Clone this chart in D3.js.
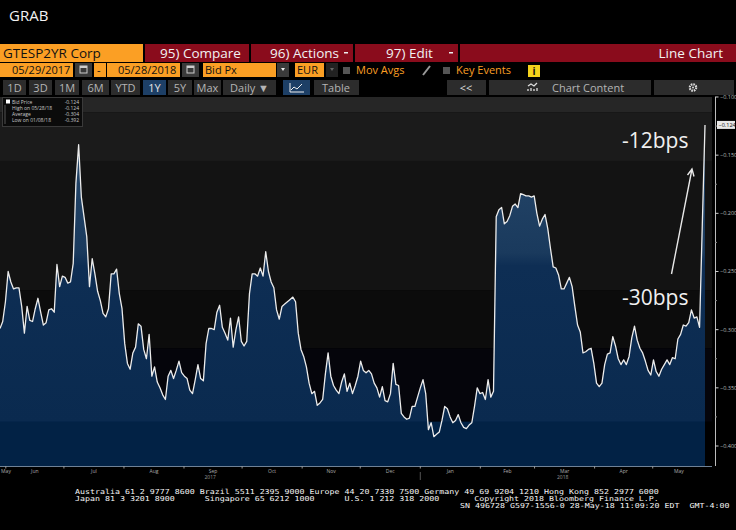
<!DOCTYPE html>
<html>
<head>
<meta charset="utf-8">
<script src="https://cdn.jsdelivr.net/npm/d3@7"></script>
<style>
  body { margin: 0; background: #000; overflow: hidden; }
  svg { display: block; }
  text { font-family: "Open Sans", sans-serif; }
  .mono { font-family: "DejaVu Sans Mono", monospace; white-space: pre; }
</style>
</head>
<body>
<div id="chart"></div>
<script>
// GTESP2YR Corp, Bid Px, one value per business day 05/29/2017 .. 05/28/2018
const bidPx = [
  -0.299, -0.293, -0.276, -0.250, -0.259, -0.265, -0.264, -0.264, -0.280, -0.303,
  -0.280, -0.292, -0.293, -0.282, -0.273, -0.285, -0.296, -0.294, -0.283, -0.282,
  -0.285, -0.244, -0.263, -0.254, -0.255, -0.260, -0.259, -0.243, -0.174, -0.141,
  -0.186, -0.203, -0.220, -0.263, -0.239, -0.252, -0.267, -0.275, -0.286, -0.289,
  -0.282, -0.252, -0.252, -0.248, -0.269, -0.282, -0.312, -0.329, -0.334, -0.320,
  -0.315, -0.295, -0.297, -0.317, -0.325, -0.304, -0.340, -0.332, -0.345, -0.350,
  -0.356, -0.360, -0.340, -0.335, -0.342, -0.335, -0.327, -0.337, -0.340, -0.342,
  -0.352, -0.355, -0.343, -0.330, -0.342, -0.344, -0.312, -0.299, -0.299, -0.300,
  -0.285, -0.279, -0.298, -0.303, -0.309, -0.290, -0.315, -0.300, -0.289, -0.310,
  -0.314, -0.310, -0.269, -0.252, -0.252, -0.254, -0.247, -0.254, -0.233, -0.250,
  -0.259, -0.264, -0.283, -0.291, -0.280, -0.278, -0.276, -0.274, -0.272, -0.276,
  -0.303, -0.317, -0.323, -0.332, -0.346, -0.355, -0.353, -0.365, -0.363, -0.360,
  -0.338, -0.320, -0.340, -0.348, -0.352, -0.355, -0.345, -0.338, -0.353, -0.346,
  -0.355, -0.348, -0.340, -0.327, -0.335, -0.337, -0.335, -0.338, -0.346, -0.350,
  -0.358, -0.349, -0.361, -0.362, -0.355, -0.329, -0.347, -0.348, -0.372, -0.375,
  -0.377, -0.376, -0.366, -0.366, -0.358, -0.350, -0.343, -0.355, -0.386, -0.380,
  -0.392, -0.390, -0.388, -0.378, -0.366, -0.368, -0.375, -0.380, -0.378, -0.373,
  -0.380, -0.384, -0.385, -0.382, -0.380, -0.366, -0.350, -0.355, -0.354, -0.360,
  -0.343, -0.358, -0.353, -0.203, -0.197, -0.195, -0.209, -0.207, -0.202, -0.194,
  -0.192, -0.195, -0.183, -0.184, -0.185, -0.185, -0.186, -0.185, -0.200, -0.211,
  -0.205, -0.201, -0.213, -0.230, -0.246, -0.247, -0.253, -0.265, -0.265, -0.260,
  -0.255, -0.263, -0.280, -0.296, -0.302, -0.320, -0.319, -0.317, -0.316, -0.329,
  -0.346, -0.349, -0.346, -0.330, -0.321, -0.320, -0.306, -0.314, -0.325, -0.330,
  -0.326, -0.330, -0.323, -0.307, -0.297, -0.309, -0.316, -0.320, -0.327, -0.335,
  -0.339, -0.326, -0.336, -0.340, -0.334, -0.330, -0.326, -0.330, -0.324, -0.325,
  -0.308, -0.304, -0.296, -0.297, -0.294, -0.283, -0.290, -0.289, -0.298, -0.210,
  -0.124
];

const startDate = new Date(2017, 4, 29);
const endDate = new Date(2018, 4, 28);
const monthLabels = ["May", "Jun", "Jul", "Aug", "Sep", "Oct", "Nov", "Dec", "Jan", "Feb", "Mar", "Apr", "May"];
const yearLabels = ["2017", "2018"];
const yTickValues = [-0.1, -0.15, -0.2, -0.25, -0.3, -0.35, -0.4];
const bandEdges = [-0.1, -0.113, -0.155, -0.266, -0.316, -0.379];
const legendNames = ["Bid Price", "High on 05/28/18", "Average", "Low on 01/08/18"];
const legendValues = ["-0.124", "-0.124", "-0.304", "-0.392"];
const callouts = ["-12bps", "-30bps"];

const rangeButtons = ["1D", "3D", "1M", "6M", "YTD", "1Y", "5Y", "Max", "Daily \u25BC"];
const footerLines = [
  "Australia 61 2 9777 8600 Brazil 5511 2395 9000 Europe 44 20 7330 7500 Germany 49 69 9204 1210 Hong Kong 852 2977 6000",
  "Japan 81 3 3201 8900      Singapore 65 6212 1000      U.S. 1 212 318 2000       Copyright 2018 Bloomberg Finance L.P.",
  "SN 496728 G597-1556-0 28-May-18 11:09:20 EDT  GMT-4:00"
];

const width = 736, height = 530;
const plot = { left: 0, right: 712, top: 97, bottom: 466, dataRight: 705 };

const svg = d3.select("#chart")
    .append("svg")
    .attr("width", width)
    .attr("height", height)
    .style("background", "#000");

const ORANGE = "#fb9f24", RED = "#8a0c1c", BTN = "#2c2c2c";

// --- terminal header ---
svg.append("text").attr("x", 9).attr("y", 21)
    .attr("fill", "#f2f2f2").attr("font-size", 15).text("GRAB");

// row 1: security + red menu boxes
svg.append("rect").attr("x", 0).attr("y", 44).attr("width", 143).attr("height", 18).attr("fill", ORANGE);
svg.append("text").attr("x", 3).attr("y", 58).attr("font-size", 13.5).attr("fill", "#111").text("GTESP2YR Corp");

const menus = [
  { x: 145, w: 104, label: "95) Compare", tx: 160, drop: false },
  { x: 251, w: 102, label: "96) Actions", tx: 270, drop: true },
  { x: 355, w: 103, label: "97) Edit", tx: 386, drop: true },
  { x: 460, w: 276, label: "Line Chart", tx: 723, drop: false, end: true }
];
menus.forEach(m => {
    svg.append("rect").attr("x", m.x).attr("y", 44).attr("width", m.w).attr("height", 18).attr("fill", RED);
    svg.append("text").attr("x", m.tx).attr("y", 58).attr("font-size", 13.5).attr("fill", "#f2f2f2")
        .attr("text-anchor", m.end ? "end" : "start").text(m.label);
    if (m.drop) svg.append("rect").attr("x", m.x + m.w - 9).attr("y", 52).attr("width", 4).attr("height", 1.5).attr("fill", "#eee");
});

// row 2: dates, field, currency, toggles
const row2 = [
  { x: 0, w: 73, label: "05/29/2017", tx: 12 },
  { x: 94, w: 12, label: "-", tx: 97 },
  { x: 107, w: 73, label: "05/28/2018", tx: 118 },
  { x: 203, w: 73, label: "Bid Px", tx: 205 },
  { x: 295, w: 29, label: "EUR", tx: 297 }
];
row2.forEach(b => {
    svg.append("rect").attr("x", b.x).attr("y", 63).attr("width", b.w).attr("height", 14).attr("fill", ORANGE);
    svg.append("text").attr("x", b.tx).attr("y", 74).attr("font-size", 11).attr("fill", "#111").text(b.label);
});
[75, 182].forEach(x => {
    svg.append("rect").attr("x", x).attr("y", 63).attr("width", 17).attr("height", 14).attr("fill", "#3a3a3a");
    svg.append("rect").attr("x", x + 5).attr("y", 66).attr("width", 7).attr("height", 7).attr("fill", "none").attr("stroke", "#ccc").attr("stroke-width", 1);
    svg.append("rect").attr("x", x + 5).attr("y", 66).attr("width", 7).attr("height", 2).attr("fill", "#ccc");
});
[[277, "#3a3a3a", "#eee"], [326, "#222", "#666"]].forEach(([x, bg, fg]) => {
    svg.append("rect").attr("x", x).attr("y", 63).attr("width", 12).attr("height", 14).attr("fill", bg);
    svg.append("path").attr("d", `M${x + 4},68 h4 l-2,3 z`).attr("fill", fg);
});
[343, 443].forEach(x => svg.append("rect").attr("x", x).attr("y", 67).attr("width", 7).attr("height", 7).attr("fill", "#555"));
svg.append("text").attr("x", 356).attr("y", 74).attr("font-size", 11).attr("fill", ORANGE).text("Mov Avgs");
svg.append("text").attr("x", 456).attr("y", 74).attr("font-size", 11).attr("fill", ORANGE).text("Key Events");
svg.append("line").attr("x1", 423).attr("y1", 75).attr("x2", 430).attr("y2", 66).attr("stroke", "#999").attr("stroke-width", 2);
svg.append("rect").attr("x", 528).attr("y", 65).attr("width", 12).attr("height", 12).attr("fill", "#f4d21c");
svg.append("text").attr("x", 534).attr("y", 75).attr("text-anchor", "middle").attr("font-size", 10)
    .attr("font-weight", "bold").attr("fill", "#111").text("i");

// row 3: range buttons
const btnX = [3, 29, 55, 82, 111, 143, 168, 194, 223];
const btnW = [23, 23, 24, 27, 29, 23, 24, 27, 53];
rangeButtons.forEach((b, i) => {
    const sel = b === "1Y";
    svg.append("rect").attr("x", btnX[i]).attr("y", 80).attr("width", btnW[i]).attr("height", 15)
        .attr("fill", sel ? "#1d3f66" : BTN);
    svg.append("text").attr("x", btnX[i] + btnW[i] / 2).attr("y", 91.5).attr("text-anchor", "middle")
        .attr("font-size", 11).attr("fill", sel ? "#e4e4e4" : "#b4b4b4").text(b);
});
svg.append("rect").attr("x", 283).attr("y", 80).attr("width", 27).attr("height", 15).attr("fill", "#1d3f66");
svg.append("path").attr("d", "M290,83 v9 h14 M291,90 l3,-3 l3,2 l5,-5").attr("fill", "none").attr("stroke", "#eee").attr("stroke-width", 1);
svg.append("rect").attr("x", 314).attr("y", 80).attr("width", 45).attr("height", 15).attr("fill", BTN);
svg.append("text").attr("x", 336).attr("y", 91.5).attr("text-anchor", "middle").attr("font-size", 11).attr("fill", "#b4b4b4").text("Table");
svg.append("rect").attr("x", 447).attr("y", 80).attr("width", 39).attr("height", 15).attr("fill", BTN);
svg.append("text").attr("x", 466).attr("y", 91.5).attr("text-anchor", "middle").attr("font-size", 11).attr("fill", "#ddd").text("<<");
svg.append("rect").attr("x", 489).attr("y", 80).attr("width", 162).attr("height", 15).attr("fill", BTN);
svg.append("path").attr("d", "M528,91 v-2 M531,91 v-3 M534,91 v-2 M537,91 v-3 M528,86 l3,-2 l3,2 l3,-3")
    .attr("fill", "none").attr("stroke", "#ddd").attr("stroke-width", 1.3);
svg.append("text").attr("x", 552).attr("y", 91.5).attr("font-size", 11).attr("fill", "#b4b4b4").text("Chart Content");
svg.append("rect").attr("x", 654).attr("y", 80).attr("width", 80).attr("height", 15).attr("fill", BTN);
svg.append("circle").attr("cx", 693).attr("cy", 87.5).attr("r", 3.2).attr("fill", "none").attr("stroke", "#ddd").attr("stroke-width", 2.2)
    .attr("stroke-dasharray", "1.6 0.9");
svg.append("circle").attr("cx", 693).attr("cy", 87.5).attr("r", 1).attr("fill", "#ddd");

// --- chart ---
const x = d3.scaleLinear().domain([0, bidPx.length - 1]).range([plot.left, plot.dataRight]);
const xDate = d3.scaleTime().domain([startDate, endDate]).range([plot.left, plot.dataRight]);
const y = d3.scaleLinear().domain([-0.4, -0.1]).range([446, 97]);

// background bands
const bandColors = ["#262626", "#1b1b1b", "#131313", "#0c0c0c", "#05050b"];
bandColors.forEach((c, i) => {
    const top = y(bandEdges[i]);
    svg.append("rect").attr("x", plot.left).attr("y", top).attr("width", plot.right - plot.left)
        .attr("height", y(bandEdges[i + 1]) - top).attr("fill", c);
});

const grad = svg.append("defs").append("linearGradient").attr("id", "areaFill")
    .attr("gradientUnits", "userSpaceOnUse").attr("x1", 0).attr("y1", plot.top).attr("x2", 0).attr("y2", y(bandEdges[5]));
[[0, "#2b4c6f"], [0.48, "#1a3a5d"], [0.52, "#0e2e54"], [1, "#0a2a4f"]].forEach(([o, c]) =>
    grad.append("stop").attr("offset", o).attr("stop-color", c));

const area = d3.area().x((d, i) => x(i)).y0(plot.bottom).y1(d => y(d));
const line = d3.line().x((d, i) => x(i)).y(d => y(d));

svg.append("path").datum(bidPx).attr("d", area).attr("fill", "url(#areaFill)");
// flat navy strip at the bottom of the plot
svg.append("rect").attr("x", plot.left).attr("y", y(bandEdges[5])).attr("width", plot.dataRight - plot.left)
    .attr("height", plot.bottom - y(bandEdges[5])).attr("fill", "#022245");
svg.append("path").datum(bidPx).attr("d", line)
    .attr("fill", "none").attr("stroke", "#ececec").attr("stroke-width", 1.3).attr("stroke-linejoin", "round");

// right axis
svg.append("line").attr("x1", 715.5).attr("x2", 715.5).attr("y1", plot.top).attr("y2", plot.bottom)
    .attr("stroke", "#bbb").attr("stroke-width", 1);
yTickValues.forEach(v => {
    svg.append("line").attr("x1", 715).attr("x2", 718.5).attr("y1", y(v)).attr("y2", y(v)).attr("stroke", "#ccc");
    svg.append("text").attr("x", 720).attr("y", y(v)).attr("dy", "0.35em").attr("font-size", 5.5)
        .attr("fill", "#bbb").text(d3.format(".3f")(v));
});
d3.range(-0.125, -0.4, -0.05).forEach(v => {
    svg.append("line").attr("x1", 715).attr("x2", 717).attr("y1", y(v)).attr("y2", y(v)).attr("stroke", "#888");
});
// last value tag
const last = bidPx[bidPx.length - 1];
svg.append("rect").attr("x", 717).attr("y", y(last) - 4).attr("width", 18).attr("height", 8).attr("fill", "#e8e8e8");
svg.append("text").attr("x", 718.5).attr("y", y(last)).attr("dy", "0.35em").attr("font-size", 5.5)
    .attr("fill", "#111").text(d3.format(".3f")(last));

// bottom axis
svg.append("line").attr("x1", plot.left).attr("x2", plot.right).attr("y1", plot.bottom + 0.5).attr("y2", plot.bottom + 0.5)
    .attr("stroke", "#6f8296").attr("stroke-width", 1.2);
const monthStarts = d3.timeMonth.range(d3.timeMonth.ceil(startDate), endDate);
monthStarts.forEach(m => {
    svg.append("line").attr("x1", xDate(m)).attr("x2", xDate(m)).attr("y1", plot.bottom).attr("y2", plot.bottom + 2.5)
        .attr("stroke", "#999");
});
const monthEdges = [startDate, ...monthStarts, endDate];
monthLabels.forEach((m, i) => {
    const cx = (xDate(monthEdges[i]) + xDate(monthEdges[i + 1])) / 2;
    svg.append("text").attr("x", Math.max(cx, 6)).attr("y", plot.bottom + 6.5).attr("text-anchor", "middle")
        .attr("font-size", 5).attr("fill", "#aaa").text(m);
});
const newYear = new Date(2018, 0, 1);
svg.append("line").attr("x1", xDate(newYear)).attr("x2", xDate(newYear)).attr("y1", plot.bottom + 6).attr("y2", plot.bottom + 14)
    .attr("stroke", "#555");
[[startDate, newYear], [newYear, endDate]].forEach(([a, b], i) => {
    svg.append("text").attr("x", (xDate(a) + xDate(b)) / 2).attr("y", plot.bottom + 13).attr("text-anchor", "middle")
        .attr("font-size", 5).attr("fill", "#999").text(yearLabels[i]);
});

// legend
const legend = svg.append("g");
legend.append("rect").attr("x", 2.5).attr("y", 97.5).attr("width", 80).attr("height", 29)
    .attr("fill", "#0b0b0b").attr("stroke", "#3a3a3a");
legendNames.forEach((n, i) => {
    const ly = 103.5 + i * 6.3;
    legend.append("text").attr("x", 12).attr("y", ly).attr("font-size", 5).attr("fill", "#c8c8c8").text(n);
    legend.append("text").attr("x", 79).attr("y", ly).attr("text-anchor", "end").attr("font-size", 5).attr("fill", "#c8c8c8").text(legendValues[i]);
});
legend.append("rect").attr("x", 6).attr("y", 99.5).attr("width", 4).attr("height", 4).attr("fill", "#fff");
legend.append("line").attr("x1", 5).attr("x2", 5).attr("y1", 105).attr("y2", 124).attr("stroke", "#555");

// annotations
svg.append("text").attr("x", 622).attr("y", 148).attr("font-size", 21).attr("fill", "#f0f0f0").text(callouts[0]);
svg.append("text").attr("x", 622).attr("y", 305).attr("font-size", 21).attr("fill", "#f0f0f0").text(callouts[1]);
svg.append("path").attr("d", "M671.5,274 L692,169 M687.5,175 L692,169 L694,176.5")
    .attr("fill", "none").attr("stroke", "#e8e8e8").attr("stroke-width", 1.4);

// footer: fixed-width columns, 5px per character
const footerX = [75, 75, 460];
footerLines.forEach((t, i) => {
    svg.append("text").attr("class", "mono").attr("x", footerX[i]).attr("y", 494 + i * 7)
        .attr("font-size", 6.8).attr("fill", "#f4f4f4")
        .attr("textLength", t.length * 4.99).attr("lengthAdjust", "spacingAndGlyphs").text(t);
});
</script>
</body>
</html>
